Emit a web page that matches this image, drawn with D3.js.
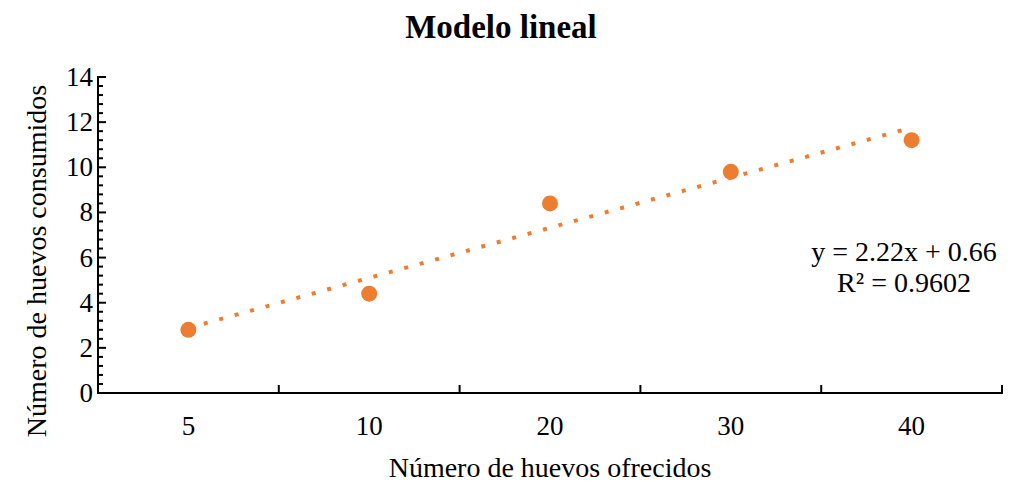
<!DOCTYPE html>
<html>
<head>
<meta charset="utf-8">
<script src="https://cdn.jsdelivr.net/npm/d3@7"></script>
<style>
  html, body { margin: 0; padding: 0; background: #fff; }
  svg text { font-family: "Liberation Serif", "Times New Roman", serif; fill: #000; }
</style>
</head>
<body>
<svg id="chart"></svg>
<script>
'use strict';

// chart data
const categories = ['5', '10', '20', '30', '40'];
const consumed = [2.8, 4.4, 8.4, 9.8, 11.2];
const yTicks = [0, 2, 4, 6, 8, 10, 12, 14];

const width = 1011;
const height = 482;
const margin = { top: 77, right: 9, bottom: 89, left: 98 };
const orange = '#ED7D31';

const svg = d3.select('#chart')
  .attr('width', width)
  .attr('height', height);

const x = d3.scaleBand()
  .domain(categories)
  .range([margin.left, width - margin.right])
  .padding(0);

const y = d3.scaleLinear()
  .domain([0, 14])
  .range([height - margin.bottom, margin.top]);

// linear fit on category index (1..n), like an Excel trendline
const xs = consumed.map((d, i) => i + 1);
const mx = d3.mean(xs);
const my = d3.mean(consumed);
const sxy = d3.sum(xs, (v, i) => (v - mx) * (consumed[i] - my));
const sxx = d3.sum(xs, v => (v - mx) * (v - mx));
const slope = sxy / sxx;
const intercept = my - slope * mx;
const sst = d3.sum(consumed, v => (v - my) * (v - my));
const r2 = (slope * slope * sxx) / sst;

const xPos = idx => x(categories[0]) + x.bandwidth() / 2 + (idx - 1) * x.step();

// title
svg.append('text')
  .attr('x', 501)
  .attr('y', 38)
  .attr('text-anchor', 'middle')
  .style('font-size', '33px')
  .style('font-weight', 'bold')
  .text('Modelo lineal');

// y axis: minor ticks every 0.4, major every 2, inside
const minor = d3.range(0, 14.001, 0.4);
svg.append('g')
  .selectAll('line')
  .data(minor)
  .enter()
  .append('line')
  .attr('x1', margin.left)
  .attr('x2', d => margin.left + (Math.abs(d / 2 - Math.round(d / 2)) < 1e-6 ? 8 : 5))
  .attr('y1', d => y(d))
  .attr('y2', d => y(d))
  .attr('stroke', '#000')
  .attr('stroke-width', 2);

svg.append('line')
  .attr('x1', margin.left)
  .attr('x2', margin.left)
  .attr('y1', y(0) + 1)
  .attr('y2', y(14) - 1)
  .attr('stroke', '#000')
  .attr('stroke-width', 2);

svg.append('g')
  .selectAll('text')
  .data(yTicks)
  .enter()
  .append('text')
  .attr('x', 93)
  .attr('y', d => y(d) + 9)
  .attr('text-anchor', 'end')
  .style('font-size', '27px')
  .text(d => d);

// x axis: ticks at band edges, pointing up
const edges = categories.map(c => x(c)).concat([width - margin.right]);
svg.append('g')
  .selectAll('line')
  .data(edges)
  .enter()
  .append('line')
  .attr('x1', d => d)
  .attr('x2', d => d)
  .attr('y1', y(0))
  .attr('y2', y(0) - 8)
  .attr('stroke', '#000')
  .attr('stroke-width', 2);

svg.append('line')
  .attr('x1', margin.left - 1)
  .attr('x2', width - margin.right + 1)
  .attr('y1', y(0))
  .attr('y2', y(0))
  .attr('stroke', '#000')
  .attr('stroke-width', 2);

svg.append('g')
  .selectAll('text')
  .data(categories)
  .enter()
  .append('text')
  .attr('x', d => x(d) + x.bandwidth() / 2)
  .attr('y', 435)
  .attr('text-anchor', 'middle')
  .style('font-size', '27px')
  .text(d => d);

// axis titles
svg.append('text')
  .attr('x', 550)
  .attr('y', 477)
  .attr('text-anchor', 'middle')
  .style('font-size', '28px')
  .text('Número de huevos ofrecidos');

svg.append('text')
  .attr('transform', 'translate(46,261) rotate(-90)')
  .attr('text-anchor', 'middle')
  .style('font-size', '28px')
  .text('Número de huevos consumidos');

// trendline
const line = d3.line()
  .x(d => xPos(d))
  .y(d => y(slope * d + intercept));

svg.append('path')
  .datum([1, categories.length])
  .attr('d', line)
  .attr('fill', 'none')
  .attr('stroke', orange)
  .attr('stroke-width', 4)
  .attr('stroke-dasharray', '4,12');

// markers
svg.append('g')
  .selectAll('circle')
  .data(consumed)
  .enter()
  .append('circle')
  .attr('cx', (d, i) => x(categories[i]) + x.bandwidth() / 2)
  .attr('cy', d => y(d))
  .attr('r', 8)
  .attr('fill', orange);

// trendline label
const label = svg.append('text')
  .attr('text-anchor', 'middle')
  .style('font-size', '28px');

label.append('tspan')
  .attr('x', 904)
  .attr('y', 261)
  .text(`y = ${slope.toFixed(2)}x + ${intercept.toFixed(2)}`);

label.append('tspan')
  .attr('x', 904)
  .attr('y', 292)
  .text(`R² = ${r2.toFixed(4)}`);
</script>
</body>
</html>
